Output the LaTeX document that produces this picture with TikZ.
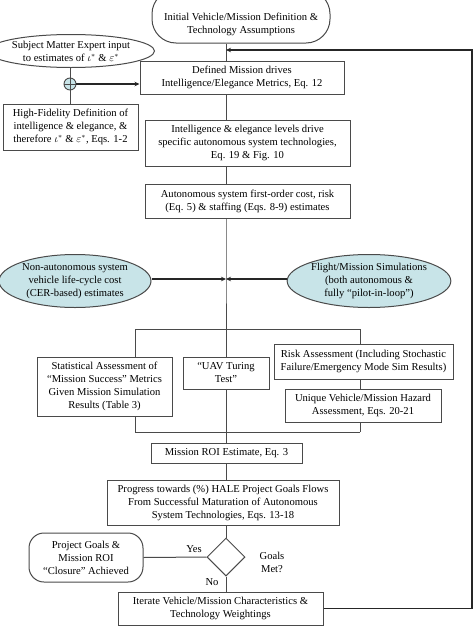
\documentclass[tikz,border=0pt]{standalone}
\usepackage{fontspec}
\setmainfont{Liberation Serif}
\usetikzlibrary{shapes.geometric,arrows.meta}
\definecolor{teal1}{HTML}{C8E4E8}
\definecolor{ln}{HTML}{4A4A4A}
\tikzset{
  every node/.style={font=\fontsize{10.6}{13}\selectfont, align=center, inner sep=0pt},
  box/.style={draw=ln, line width=1pt, rectangle},
  oval/.style={draw=ln, line width=1pt, ellipse, fill=teal1},
  wov/.style={draw=ln, line width=1pt, ellipse},
  conn/.style={draw=ln, line width=1pt},
  fb/.style={draw=black!85, line width=1.2pt},
  tip/.style={-{Stealth[length=5pt,width=4.5pt]}},
}
\begin{document}
\begin{tikzpicture}[x=1pt,y=-1pt]
\useasboundingbox (0,0) rectangle (474,627);
\begin{scope}
\clip (0,0) rectangle (474,627);
% top terminal
\node[box, rounded corners=24pt, minimum width=178, minimum height=53] (top) at (241,16.5) {};
\node (toptext) at (241,24.5) {Initial Vehicle/Mission Definition \&\\Technology Assumptions};
% SME
\node[wov, minimum width=142, minimum height=33] (sme) at (71,51) {Subject Matter Expert input\\to estimates of $\iota^{*}$ \& $\varepsilon^{*}$};
\end{scope}
\coordinate (j1) at (226,50);
\node[draw=ln, line width=0.9pt, circle, fill=teal1, minimum size=12pt] (plus) at (70,84) {};
\draw[ln, line width=0.9pt] (plus.north) -- (plus.south) (plus.west) -- (plus.east);
\node[box, minimum width=204, minimum height=33] (defm) at (242,77.5) {Defined Mission drives\\Intelligence/Elegance Metrics, Eq. 12};
\node[box, minimum width=135, minimum height=46] (hifi) at (70.5,127) {High-Fidelity Definition of\\intelligence \& elegance, \&\\therefore $\iota^{*}$ \& $\varepsilon^{*}$, Eqs. 1-2};
\node[box, minimum width=205, minimum height=46] (intel) at (247.5,143) {Intelligence \& elegance levels drive\\specific autonomous system technologies,\\Eq. 19 \& Fig. 10};
\node[box, minimum width=205, minimum height=34] (auton) at (247.5,201) {Autonomous system first-order cost, risk\\(Eq. 5) \& staffing (Eqs. 8-9) estimates};
\begin{scope}
\clip (0,0) rectangle (474,627);
\node[oval, minimum width=152, minimum height=53] (nonauto) at (75,281) {Non-autonomous system\\vehicle life-cycle cost\\(CER-based) estimates};
\end{scope}
\node[oval, minimum width=146, minimum height=53] (flight) at (369,281) {Flight/Mission Simulations\\(both autonomous \&\\fully “pilot-in-loop”)};
\coordinate (j2) at (226,279);
\coordinate (tl) at (135,329);
\coordinate (tm) at (226,329);
\coordinate (tr) at (360,329);
\coordinate (bl) at (135,432);
\coordinate (bm) at (226,432);
\coordinate (br) at (360,432);
\node[box, minimum width=135, minimum height=59] (stat) at (104.5,386.5) {Statistical Assessment of\\“Mission Success” Metrics\\Given Mission Simulation\\Results (Table 3)};
\node[box, minimum width=86, minimum height=32] (uav) at (226,373) {“UAV Turing\\Test”};
\node[box, minimum width=179, minimum height=35] (risk) at (363.5,361.5) {Risk Assessment (Including Stochastic\\Failure/Emergency Mode Sim Results)};
\node[box, minimum width=156, minimum height=33] (uniq) at (363,405.5) {Unique Vehicle/Mission Hazard\\Assessment, Eqs. 20-21};
\node[box, minimum width=151, minimum height=20] (roi) at (226.5,453) {Mission ROI Estimate, Eq. 3};
\node[box, minimum width=232, minimum height=45] (prog) at (223,502.5) {Progress towards (\%) HALE Project Goals Flows\\From Successful Maturation of Autonomous\\System Technologies, Eqs. 13-18};
\node[draw=ln, line width=1pt, diamond, aspect=1, minimum width=38, minimum height=38] (dia) at (226,557) {};
\node (goals) at (272,562) {Goals\\Met?};
\node[box, rounded corners=15pt, minimum width=114, minimum height=49] (pg) at (86,557.5) {Project Goals \&\\Mission ROI\\“Closure” Achieved};
\node (yes) at (194,549) {Yes};
\node (no) at (212,582) {No};
\node[box, minimum width=205, minimum height=33] (iter) at (220.5,608.5) {Iterate Vehicle/Mission Characteristics \&\\Technology Weightings};
\coordinate (fr1) at (472,608.5);
\coordinate (fr2) at (472,50);
% connectors
\draw[conn] (top.south -| j1) -- (defm.north -| j1);
\draw[conn] (sme.south -| plus) -- (plus.north);
\draw[conn] (plus.south) -- (hifi.north -| plus);
\draw[fb, tip] (plus.east) -- (defm.west |- plus);
\draw[conn] (defm.south -| j1) -- (intel.north -| j1);
\draw[conn] (intel.south -| j1) -- (auton.north -| j1);
\draw[conn] (auton.south -| j1) -- (j2) -- (tm);
\draw[fb, tip] (nonauto.east |- j2) -- (j2);
\draw[fb, tip] (flight.west |- j2) -- (j2);
\draw[conn] (tl) -- (tr);
\draw[conn] (tl) -- (stat.north -| tl);
\draw[conn] (tm) -- (uav.north);
\draw[conn] (tr) -- (risk.north -| tr);
\draw[conn] (risk.south -| tr) -- (uniq.north -| tr);
\draw[conn] (stat.south -| bl) -- (bl);
\draw[conn] (uav.south) -- (bm);
\draw[conn] (uniq.south -| br) -- (br);
\draw[conn] (bl) -- (br);
\draw[conn] (bm) -- (roi.north -| bm);
\draw[conn] (roi.south -| bm) -- (prog.north -| bm);
\draw[conn] (prog.south -| bm) -- (dia.north);
\draw[conn] (dia.west) -- (pg.east);
\draw[conn] (dia.south) -- (iter.north -| dia);
\draw[fb, tip] (iter.east) -- (fr1) -- (fr2) -- (j1);
\end{tikzpicture}
\end{document}
